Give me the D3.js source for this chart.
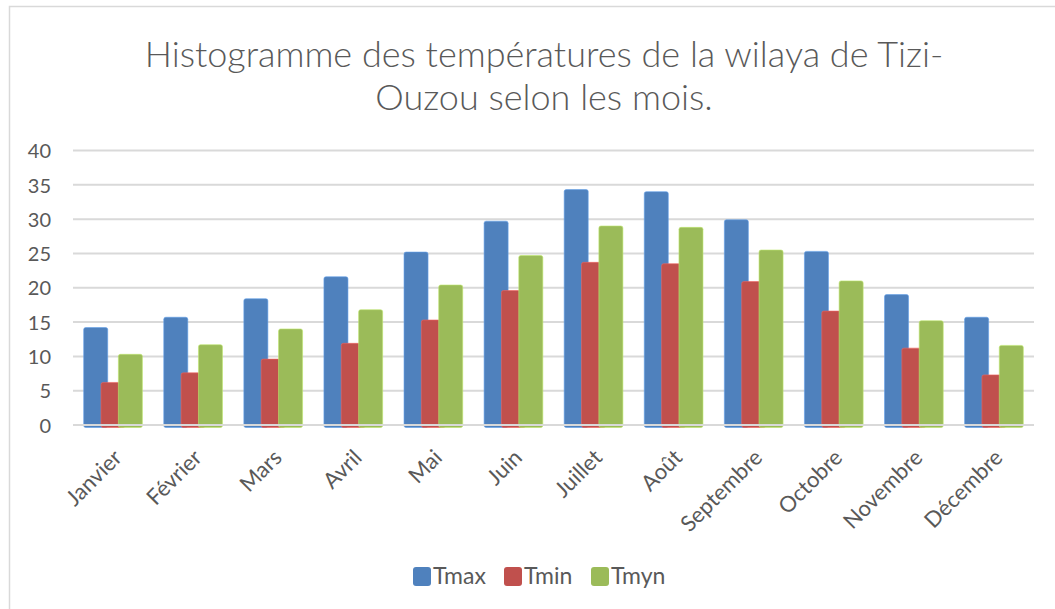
<!DOCTYPE html>
<html>
<head>
<meta charset="utf-8">
<script src="https://cdn.jsdelivr.net/npm/d3@7"></script>
<style>
  body { margin: 0; background: #fff; }
  svg text { font-family: Lato, "Open Sans", sans-serif; fill: #595959; }
</style>
</head>
<body>
<div id="chart"></div>
<script>
// months + series
const months = ['Janvier', 'Février', 'Mars', 'Avril', 'Mai', 'Juin',
  'Juillet', 'Août', 'Septembre', 'Octobre', 'Novembre', 'Décembre'];
const tmax = [14.2, 15.7, 18.4, 21.6, 25.2, 29.7, 34.3, 34.0, 29.9, 25.3, 19.0, 15.7];
const tmin = [6.2, 7.6, 9.6, 11.9, 15.3, 19.6, 23.7, 23.5, 20.9, 16.6, 11.2, 7.3];
const tmyn = [10.3, 11.7, 14.0, 16.8, 20.4, 24.7, 29.0, 28.8, 25.5, 21.0, 15.2, 11.6];
const yTicks = [0, 5, 10, 15, 20, 25, 30, 35, 40];
const titleLines = ['Histogramme des températures de la wilaya de Tizi-', 'Ouzou selon les mois.'];

const series = [
  { name: 'Tmax', values: tmax, color: '#4f81bd' },
  { name: 'Tmin', values: tmin, color: '#c0504d' },
  { name: 'Tmyn', values: tmyn, color: '#9bbb59' },
];

const width = 1055;
const height = 609;
const plot = { left: 73, right: 1034, top: 150.5, bottom: 425 };

const svg = d3.select('#chart')
  .append('svg')
  .attr('width', width)
  .attr('height', height);

// chart frame (only left + top edges are visible in the picture)
svg.append('path')
  .attr('d', `M9.5,${height} V6.5 H${width}`)
  .attr('fill', 'none')
  .attr('stroke', '#d9d9d9')
  .attr('stroke-width', 1.5);

// title
const title = svg.append('text')
  .attr('text-anchor', 'middle')
  .style('font-size', '36px')
  .style('font-weight', 300);
titleLines.forEach((t, i) => {
  title.append('tspan').attr('x', 544).attr('y', 67 + i * 43).text(t);
});

const x = d3.scaleBand()
  .domain(months)
  .range([plot.left, plot.right])
  .padding(0);

const y = d3.scaleLinear()
  .domain([0, 40])
  .range([plot.bottom, plot.top]);

// gridlines
svg.append('g')
  .attr('class', 'gridlines')
  .selectAll('line')
  .data(yTicks)
  .join('line')
  .attr('x1', plot.left)
  .attr('x2', plot.right)
  .attr('y1', d => y(d))
  .attr('y2', d => y(d))
  .attr('stroke', '#d9d9d9')
  .attr('stroke-width', 2);

// y axis labels
const yAxis = d3.axisLeft(y).tickValues(yTicks).tickSize(0).tickPadding(0);
const yg = svg.append('g')
  .attr('transform', `translate(51,0)`)
  .call(yAxis);
yg.select('.domain').remove();
yg.selectAll('text')
  .attr('dy', '0.36em')
  .style('font-size', '20px')
  .attr('fill', '#595959');

// bars: overlapping clustered columns
const bw = x.bandwidth();
const barW = bw * 0.30;
const step = bw * 0.2166;
const groupOff = (bw - (2 * step + barW)) / 2;

series.forEach((s, si) => {
  svg.append('g')
    .attr('class', 'bars-' + s.name)
    .selectAll('rect')
    .data(s.values)
    .join('rect')
    .attr('x', (d, i) => x(months[i]) + groupOff + si * step)
    .attr('y', d => y(d))
    .attr('width', barW)
    .attr('height', d => y(0) - y(d) + 2.5)
    .attr('rx', 2)
    .attr('fill', s.color)
    .attr('stroke', d3.color(s.color).brighter(0.6))
    .attr('stroke-width', 0.6);
});

// zero line on top of the bars
svg.append('line')
  .attr('x1', plot.left)
  .attr('x2', plot.right)
  .attr('y1', y(0))
  .attr('y2', y(0))
  .attr('stroke', '#d9d9d9')
  .attr('stroke-width', 2);

// month labels, rotated
svg.append('g')
  .attr('class', 'x-labels')
  .selectAll('text')
  .data(months)
  .join('text')
  .attr('transform', d => `translate(${x(d) + bw / 2 + 10},459) rotate(-45)`)
  .attr('text-anchor', 'end')
  .style('font-size', '22px')
  .text(d => d);

// legend
const legendX = [413, 504, 591];
const legend = svg.append('g').attr('class', 'legend');
series.forEach((s, i) => {
  const g = legend.append('g').attr('transform', `translate(${legendX[i]},567)`);
  g.append('rect')
    .attr('width', 18)
    .attr('height', 19)
    .attr('rx', 3)
    .attr('fill', s.color);
  g.append('text')
    .attr('x', 20)
    .attr('y', 17)
    .style('font-size', '23px')
    .text(s.name);
});
</script>
</body>
</html>
